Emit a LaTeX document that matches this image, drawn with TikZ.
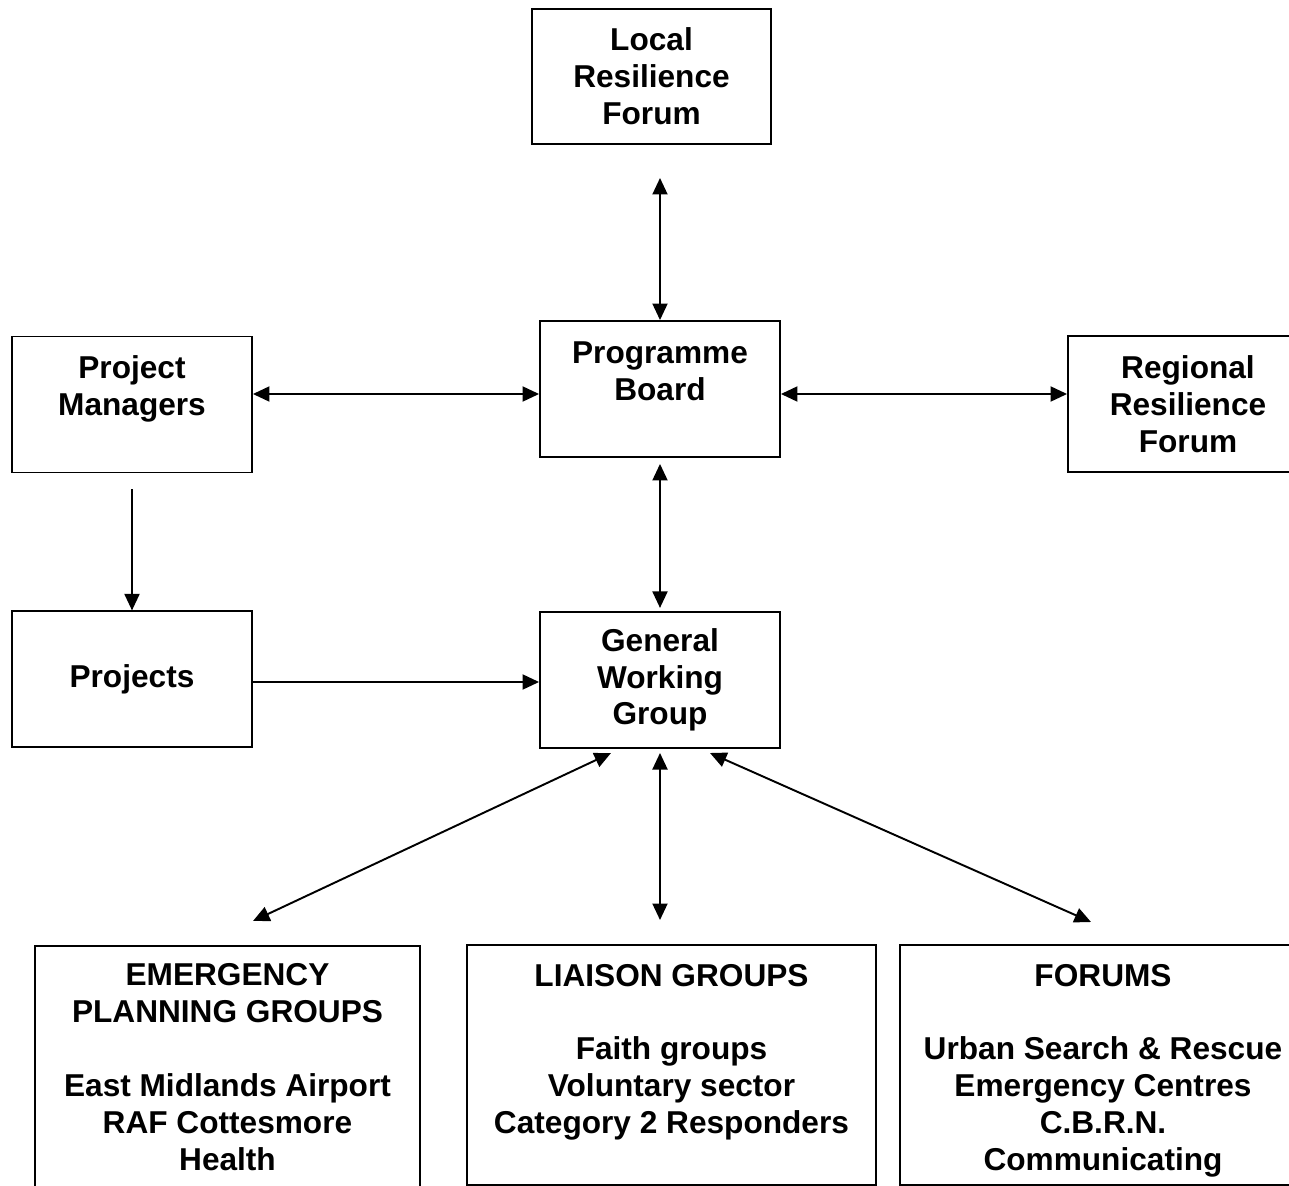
\documentclass[tikz,border=0pt]{standalone}
\usepackage{fontspec}
\setmainfont{Liberation Sans}
\usetikzlibrary{positioning,arrows.meta}
\tikzset{box/.style={draw,line width=1.1pt,align=center,inner sep=0pt,
                     font=\bfseries\fontsize{18}{21}\selectfont},
         midbox/.style={box,minimum width=4.8cm,minimum height=2.72cm},
         grpbox/.style={box,minimum height=4.84cm},
         twoway/.style={{Triangle[length=0.33cm,width=0.3cm]}-{Triangle[length=0.33cm,width=0.3cm]},line width=1.1pt},
         oneway/.style={-{Triangle[length=0.33cm,width=0.3cm]},line width=1.1pt}}

\begin{document}
\begin{tikzpicture}[x=0.02cm,y=-0.02cm]
\useasboundingbox (0,0) rectangle (1289,1186);
\clip (0,0) rectangle (1289,1186);

\node[box,minimum width=4.78cm,minimum height=2.7cm] (LRF) at (651.5,76.5) {Local\\Resilience\\Forum};
\node[midbox] (PB) at (660,389) {Programme\\Board\\[-6.5pt]\strut};
\node[midbox,below=3.06cm of PB] (GWG) {General\\Working\\Group};
\node[midbox] (PM) at (132,404.5) {Project\\Managers\\[-5.5pt]\strut};
\node[midbox,below=2.74cm of PM] (PRJ) {Projects};
\node[midbox] (RRF) at (1188,404) {Regional\\Resilience\\Forum};

\node[grpbox,minimum width=7.7cm] (EPG) at (227.5,1067)
    {EMERGENCY\\PLANNING GROUPS\\[21pt]East Midlands Airport\\RAF Cottesmore\\Health};
\node[grpbox,minimum width=8.18cm,minimum height=4.8cm] (LIA) at (671.5,1065)
    {LIAISON GROUPS\\[21pt]Faith groups\\Voluntary sector\\Category 2 Responders\\[-9pt]\strut};
\node[grpbox,minimum width=8.12cm,minimum height=4.8cm] (FOR) at (1103,1065)
    {\rule{0pt}{19pt}FORUMS\\[21pt]Urban Search \& Rescue\\Emergency Centres\\C.B.R.N.\\Communicating};

% rows and free ends
\coordinate (toprow) at (660,178);
\coordinate (midrow) at (0,394);
\coordinate (lowrow) at (0,682);
\coordinate (gwgL) at (611,753);
\coordinate (gwgM) at (660,753);
\coordinate (gwgR) at (710,753);
\coordinate (epgT) at (253,921);
\coordinate (liaT) at (660,920);
\coordinate (forT) at (1091,922);

\draw[twoway] (toprow) -- (PB.north);
\draw[twoway] (PM.east |- midrow) -- (PB.west |- midrow);
\draw[twoway] (PB.east |- midrow) -- (RRF.west |- midrow);
\draw[twoway,shorten <=0.12cm,shorten >=0.06cm] (PB) -- (GWG);
\draw[oneway,shorten <=0.32cm] (PM) -- (PRJ);
\draw[oneway] (PRJ.east |- lowrow) -- (GWG.west |- lowrow);
\draw[twoway] (gwgL) -- (epgT);
\draw[twoway] (gwgM) -- (liaT);
\draw[twoway] (gwgR) -- (forT);

\end{tikzpicture}
\end{document}
